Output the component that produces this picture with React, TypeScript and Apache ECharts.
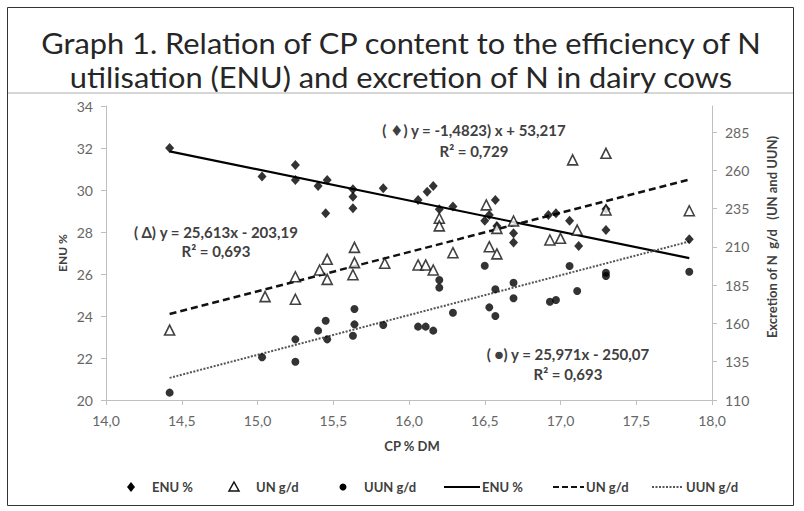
import React, { useEffect, useRef } from "react";
import * as echarts from "echarts";

// ---- data ----
const enuPoints: [number, number][] = [
  [14.42, 32.0], [15.03, 30.64], [15.25, 31.19], [15.25, 30.48], [15.40, 30.19],
  [15.46, 30.48], [15.45, 28.89], [15.63, 30.03], [15.63, 29.68], [15.63, 29.13],
  [15.83, 30.08], [16.06, 29.52], [16.12, 29.92], [16.16, 30.19], [16.20, 29.08],
  [16.29, 29.21], [16.50, 28.54], [16.53, 28.81], [16.57, 29.52], [16.58, 28.29],
  [16.69, 27.94], [16.69, 27.5], [16.92, 28.81], [16.97, 28.89], [17.06, 28.54],
  [17.12, 27.33], [17.30, 29.1], [17.30, 28.1], [17.85, 27.65],
];
const unPoints: [number, number][] = [
  [14.42, 155.7], [15.05, 177.5], [15.25, 190.5], [15.25, 175.8], [15.41, 194.9],
  [15.46, 201.9], [15.46, 188.8], [15.64, 209.7], [15.64, 199.7], [15.63, 191.8],
  [15.84, 199.3], [16.06, 198.2], [16.11, 198.2], [16.16, 194.9], [16.20, 228.7],
  [16.20, 223.7], [16.29, 206.2], [16.51, 237.4], [16.53, 210.1], [16.58, 222.1],
  [16.58, 205.4], [16.69, 226.9], [16.93, 214.5], [17.0, 215.6], [17.08, 266.8],
  [17.11, 221.0], [17.30, 271.1], [17.30, 234.1], [17.85, 233.6],
];
const uunPoints: [number, number][] = [
  [14.42, 114.8], [15.03, 137.9], [15.25, 149.6], [15.25, 135.0], [15.40, 155.3],
  [15.45, 161.8], [15.46, 149.6], [15.64, 169.4], [15.64, 159.4], [15.63, 152.0],
  [15.83, 159.0], [16.06, 157.9], [16.11, 157.9], [16.16, 155.3], [16.20, 188.4],
  [16.20, 183.4], [16.29, 167.0], [16.50, 197.7], [16.53, 170.5], [16.57, 182.3],
  [16.57, 164.9], [16.69, 186.6], [16.69, 176.4], [16.93, 174.2], [16.97, 175.3],
  [17.06, 197.5], [17.11, 181.2], [17.30, 193.1], [17.30, 191.0], [17.85, 193.8],
];
// regression coefficients [slope, intercept]
const enuTrendCoef = [-1.4823, 53.217];
const unTrendCoef = [25.613, -203.19];
const uunTrendCoef = [25.971, -250.07];
const trendRange = [14.42, 17.85];

const titleLines = [
  "Graph 1. Relation of CP content to the efficiency of N",
  "utilisation (ENU) and excretion of N in dairy cows",
];
const equationTexts = [
  "( \u2666) y = -1,4823) x + 53,217",
  "R\u00B2 = 0,729",
  "( \u0394) y = 25,613x - 203,19",
  "R\u00B2 = 0,693",
  "( \u25CF) y = 25,971x - 250,07",
  "R\u00B2 = 0,693",
];
const legendNames = ["ENU %", "UN g/d", "UUN g/d", "ENU %", "UN g/d", "UUN g/d"];
const xAxisName = "CP % DM";
const leftAxisName = "ENU %";
const rightAxisName = "Excretion of N  g/d   (UN and UUN)";

const xRange = [14, 18, 0.5];
const enuRange = [20, 34, 2];
const nRange = [110, 302, 25];

const trend = (c: number[]) => trendRange.map((x) => [x, c[0] * x + c[1]]);

const FONT = "Lato, 'DejaVu Sans', sans-serif";

export default function App() {
  const ref = useRef<HTMLDivElement>(null);
  useEffect(() => {
    document.body.style.margin = "0";
    if (!ref.current) return;
    const chart = echarts.init(ref.current, undefined, { renderer: "svg" });
    const axisLine = { show: true, lineStyle: { color: "#bfbfbf", width: 1 } };
    const axisTick = { show: true, length: 5, lineStyle: { color: "#bfbfbf" } };
    const tickLabel = { color: "#666", fontSize: 14, fontFamily: FONT };
    const eqStyle = (text: string, x: number, y: number) => ({
      type: "text",
      x,
      y,
      silent: true,
      style: {
        text,
        font: `bold 15px ${FONT}`,
        fill: "#404040",
        textAlign: "center",
        align: "center",
        textVerticalAlign: "middle",
        verticalAlign: "middle",
      },
    });
    const legText = (text: string, x: number) => ({
      type: "text",
      x,
      y: 487,
      silent: true,
      style: {
        text,
        font: `bold 13px ${FONT}`,
        fill: "#404040",
        textAlign: "left",
        align: "left",
        textVerticalAlign: "middle",
        verticalAlign: "middle",
      },
    });
    const ly = 487;
    chart.setOption({
      animation: false,
      backgroundColor: "#fff",
      grid: { left: 106, right: 92, top: 106, bottom: 111, containLabel: false },
      xAxis: {
        type: "value",
        min: xRange[0],
        max: xRange[1],
        interval: xRange[2],
        axisLine,
        axisTick,
        splitLine: { show: false },
        axisLabel: {
          ...tickLabel,
          margin: 13,
          formatter: (v: number) => v.toFixed(1).replace(".", ","),
        },
      },
      yAxis: [
        {
          type: "value",
          min: enuRange[0],
          max: enuRange[1],
          interval: enuRange[2],
          axisLine,
          axisTick,
          splitLine: { show: false },
          axisLabel: { ...tickLabel, margin: 13 },
        },
        {
          type: "value",
          position: "right",
          min: nRange[0],
          max: nRange[1],
          interval: nRange[2],
          axisLine,
          axisTick,
          splitLine: { show: false },
          axisLabel: { ...tickLabel, margin: 13, showMaxLabel: false },
        },
      ],
      series: [
        {
          type: "line",
          name: "ENU trend",
          yAxisIndex: 0,
          data: trend(enuTrendCoef),
          symbol: "none",
          lineStyle: { color: "#000", width: 2.2 },
          z: 3,
        },
        {
          type: "line",
          name: "UN trend",
          yAxisIndex: 1,
          data: trend(unTrendCoef),
          symbol: "none",
          lineStyle: { color: "#111", width: 2.5, type: [7, 4] },
          z: 3,
        },
        {
          type: "line",
          name: "UUN trend",
          yAxisIndex: 1,
          data: trend(uunTrendCoef),
          symbol: "none",
          lineStyle: { color: "#555", width: 2, type: [2, 1.5] },
          z: 3,
        },
        {
          type: "scatter",
          name: "ENU %",
          yAxisIndex: 0,
          data: enuPoints,
          symbol: "diamond",
          symbolSize: [9, 10],
          itemStyle: { color: "#000" },
          z: 4,
        },
        {
          type: "scatter",
          name: "UN g/d",
          yAxisIndex: 1,
          data: unPoints,
          symbol: "triangle",
          symbolSize: [10, 10],
          itemStyle: { color: "#fff", borderColor: "#111", borderWidth: 1.6 },
          z: 4,
        },
        {
          type: "scatter",
          name: "UUN g/d",
          yAxisIndex: 1,
          data: uunPoints,
          symbol: "circle",
          symbolSize: 8,
          itemStyle: { color: "#000" },
          z: 4,
        },
      ],
      graphic: [
        {
          type: "rect",
          silent: true,
          z: -10,
          shape: { x: 7.5, y: 7.5, width: 786, height: 498 },
          style: { fill: "none", stroke: "#333", lineWidth: 1 },
        },
        {
          type: "line",
          silent: true,
          shape: { x1: 8, y1: 93, x2: 793, y2: 93 },
          style: { stroke: "#c8c8c8", lineWidth: 1.5 },
        },
        ...titleLines.map((t, i) => ({
          type: "text",
          x: 401,
          y: 43 + i * 34,
          scaleX: 1.1,
          silent: true,
          style: {
            text: t,
            font: `28px ${FONT}`,
            fill: "#262626",
            textAlign: "center",
            align: "center",
            textVerticalAlign: "middle",
            verticalAlign: "middle",
          },
        })),
        eqStyle(equationTexts[0], 474, 130),
        eqStyle(equationTexts[1], 474, 151),
        eqStyle(equationTexts[2], 216, 232),
        eqStyle(equationTexts[3], 216, 251),
        eqStyle(equationTexts[4], 568, 354),
        eqStyle(equationTexts[5], 568, 374),
        {
          type: "text",
          x: 62,
          y: 253,
          rotation: Math.PI / 2,
          silent: true,
          style: {
            text: leftAxisName,
            font: `bold 12px ${FONT}`,
            fill: "#404040",
            textAlign: "center",
            align: "center",
            textVerticalAlign: "middle",
            verticalAlign: "middle",
          },
        },
        {
          type: "text",
          x: 772,
          y: 237,
          rotation: Math.PI / 2,
          silent: true,
          style: {
            text: rightAxisName,
            font: `bold 13px ${FONT}`,
            fill: "#404040",
            textAlign: "center",
            align: "center",
            textVerticalAlign: "middle",
            verticalAlign: "middle",
          },
        },
        {
          type: "text",
          x: 412,
          y: 446,
          silent: true,
          style: {
            text: xAxisName,
            font: `bold 13px ${FONT}`,
            fill: "#404040",
            textAlign: "center",
            align: "center",
            textVerticalAlign: "middle",
            verticalAlign: "middle",
          },
        },
        // legend
        {
          type: "polygon",
          silent: true,
          shape: { points: [[131, ly - 5], [135, ly], [131, ly + 5], [127, ly]] },
          style: { fill: "#000" },
        },
        legText(legendNames[0], 152),
        {
          type: "polygon",
          silent: true,
          shape: { points: [[234, ly - 5], [239, ly + 4], [229, ly + 4]] },
          style: { fill: "#fff", stroke: "#111", lineWidth: 1.5 },
        },
        legText(legendNames[1], 256),
        {
          type: "circle",
          silent: true,
          shape: { cx: 343, cy: ly, r: 3.5 },
          style: { fill: "#000" },
        },
        legText(legendNames[2], 364),
        {
          type: "line",
          silent: true,
          shape: { x1: 444, y1: ly, x2: 480, y2: ly },
          style: { stroke: "#000", lineWidth: 2 },
        },
        legText(legendNames[3], 482),
        {
          type: "line",
          silent: true,
          shape: { x1: 553, y1: ly, x2: 584, y2: ly },
          style: { stroke: "#111", lineWidth: 2, lineDash: [6, 3] },
        },
        legText(legendNames[4], 586),
        {
          type: "line",
          silent: true,
          shape: { x1: 652, y1: ly, x2: 683, y2: ly },
          style: { stroke: "#555", lineWidth: 2, lineDash: [2, 1.5] },
        },
        legText(legendNames[5], 686),
      ],
    });
    return () => chart.dispose();
  }, []);
  return <div ref={ref} style={{ width: 804, height: 511 }} />;
}
